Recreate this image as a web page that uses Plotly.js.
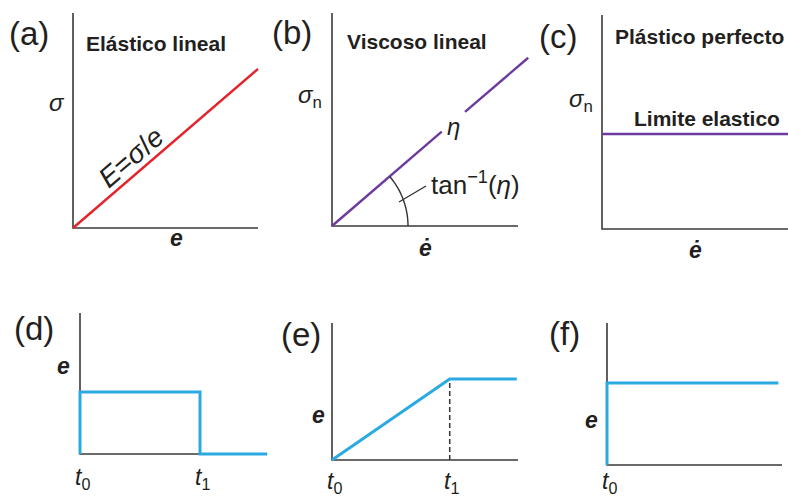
<!DOCTYPE html>
<html>
<head>
<meta charset="utf-8">
<script src="https://cdn.plot.ly/plotly-3.0.1.min.js"></script>
<style>
  html, body { margin: 0; padding: 0; background: #ffffff; }
  #chart { width: 788px; height: 498px; }
</style>
</head>
<body>
<div id="chart"></div>
<script>
// ---- data (arbitrary units; each axis is drawn from 0 to its max) ----
// (a) linear elastic: stress vs strain
const elasticStrain = [0, 10];
const elasticStress = [0, 7.4];
// (b) linear viscous: stress vs strain rate (broken where the η label sits)
const viscousRate   = [0, 5.9, null, 7.15, 10.55];
const viscousStress = [0, 4.43, null, 5.36, 7.9];
// (c) perfectly plastic: yield stress independent of strain rate
const plasticRate   = [0, 10];
const plasticStress = [4.44, 4.44];
// (d) strain history for the elastic body
const dTime   = [0, 0, 1, 1, 1.56];
const dStrain = [0, 1, 1, 0, 0];
// (e) strain history for the viscous body
const eTime   = [0, 1, 1.57];
const eStrain = [0, 1, 1];
// (f) strain history for the plastic body
const fTime   = [0, 0, 1.43];
const fStrain = [0, 1, 1];

// axis lengths per panel (a..f)
const axisXMax = [10, 10, 10, 1, 1.58, 1.46];
const axisYMax = [10, 10, 10, 2.27, 1.69, 1.73];

// tick labels on the time axes
const dTickVals = [0, 1];
const dTickText = ['<i>t</i><sub>0</sub>', '<i>t</i><sub>1</sub>'];
const eTickVals = [0, 1];
const eTickText = ['<i>t</i><sub>0</sub>', '<i>t</i><sub>1</sub>'];
const fTickVals = [0];
const fTickText = ['<i>t</i><sub>0</sub>'];

// ---- layout geometry ----
const W = 788, H = 498;
const FONT = 'Liberation Sans, Arial, Helvetica, sans-serif';
const INK = '#231f20', AXIS = '#3a3a3a';
const RED = '#e5232b', PURPLE = '#6d3a9e', BLUE = '#2aaae1';

// pixel frame of each panel: origin, axis ends and the plotting window
const frames = [
  {ox: 73,  oy: 228, xEnd: 258, yTop: 13,  l: 62,  r: 270, t: 4,   b: 238},
  {ox: 332, oy: 226, xEnd: 518, yTop: 13,  l: 322, r: 540, t: 4,   b: 236},
  {ox: 602, oy: 229, xEnd: 788, yTop: 15,  l: 592, r: 788, t: 4,   b: 239},
  {ox: 80,  oy: 454, xEnd: 200, yTop: 313, l: 70,  r: 278, t: 303, b: 464},
  {ox: 332, oy: 460, xEnd: 518, yTop: 323, l: 322, r: 530, t: 313, b: 470},
  {ox: 607, oy: 465, xEnd: 782, yTop: 323, l: 597, r: 788, t: 313, b: 475}
];

const layout = {
  width: W, height: H,
  margin: {l: 0, r: 0, t: 0, b: 0},
  paper_bgcolor: '#ffffff', plot_bgcolor: 'rgba(0,0,0,0)',
  showlegend: false,
  shapes: [], annotations: []
};

frames.forEach((f, i) => {
  f.sx = (f.xEnd - f.ox) / axisXMax[i];
  f.sy = (f.oy - f.yTop) / axisYMax[i];
  const n = i === 0 ? '' : String(i + 1);
  const common = {visible: false, fixedrange: true, showgrid: false, zeroline: false};
  layout['xaxis' + n] = Object.assign({}, common, {
    domain: [f.l / W, f.r / W],
    range: [(f.l - f.ox) / f.sx, (f.r - f.ox) / f.sx],
    anchor: 'y' + n
  });
  layout['yaxis' + n] = Object.assign({}, common, {
    domain: [1 - f.b / H, 1 - f.t / H],
    range: [(f.oy - f.b) / f.sy, (f.oy - f.t) / f.sy],
    anchor: 'x' + n
  });
  // L-shaped axes from the origin
  layout.shapes.push({
    type: 'path', xref: 'x' + n, yref: 'y' + n, layer: 'below',
    path: `M0,${axisYMax[i]} L0,0 L${axisXMax[i]},0`,
    line: {color: AXIS, width: 1.6}
  });
});

// dashed guide at t1 in (e)
layout.shapes.push({
  type: 'line', xref: 'x5', yref: 'y5', layer: 'below',
  x0: eTickVals[1], x1: eTickVals[1], y0: 0, y1: eStrain[1],
  line: {color: '#333333', width: 1.5, dash: '5px,3px'}
});

// angle arc for tan^-1(η) in (b), drawn in pixels around the origin
(function () {
  const f = frames[1];
  const ang = Math.atan2(viscousStress[4] * f.sy, viscousRate[4] * f.sx);
  const rad = 76;
  let p = '';
  for (let k = 0; k <= 24; k++) {
    const a = ang * k / 24;
    p += (k ? ' L' : 'M') + (rad * Math.cos(a)).toFixed(2) + ',' + (rad * Math.sin(a)).toFixed(2);
  }
  layout.shapes.push({
    type: 'path', xref: 'x2', yref: 'y2', xsizemode: 'pixel', ysizemode: 'pixel',
    xanchor: 0, yanchor: 0, path: p, line: {color: '#333333', width: 1.4}
  });
  layout.shapes.push({
    type: 'path', xref: 'x2', yref: 'y2', xsizemode: 'pixel', ysizemode: 'pixel',
    xanchor: 0, yanchor: 0, path: 'M67,24 L94,40', line: {color: '#333333', width: 1.4}
  });
})();

// ---- text ----
function ann(text, x, y, o) {
  layout.annotations.push(Object.assign({
    text: text, xref: 'paper', yref: 'paper', x: x / W, y: 1 - y / H,
    xanchor: 'center', yanchor: 'middle', showarrow: false,
    font: {family: FONT, size: 24, color: INK}
  }, o || {}));
}
const big = {font: {family: FONT, size: 33, color: INK}};
const bold = {xanchor: 'left', font: {family: FONT, size: 21, color: INK, weight: 'bold'}};
const sym = {font: {family: FONT, size: 23, color: INK, weight: 'bold'}};

ann('(a)', 29, 33, big);
ann('(b)', 292, 32, big);
ann('(c)', 558, 36, big);
ann('(d)', 34, 328, big);
ann('(e)', 301, 334, big);
ann('(f)', 564, 333, big);

ann('<b>Elástico lineal</b>', 84, 44, bold);
ann('<b>Viscoso lineal</b>', 345, 42, bold);
ann('<b>Plástico perfecto</b>', 613, 36, bold);
ann('<b>Limite elastico</b>', 632, 118, bold);

ann('<i>σ</i>', 57, 102);
ann('<i>e</i>', 176, 238, sym);
ann('<i>E</i>=<i>σ</i>/<i>e</i>', 131, 158, {textangle: -40.6, font: {family: FONT, size: 28, color: INK}});

ann('<i>σ</i><sub>n</sub>', 310, 97);
ann('<i>ė</i>', 425, 248, sym);
ann('<i>η</i>', 453, 126);
ann('tan<sup>−1</sup>(<i>η</i>)', 429, 184, {xanchor: 'left', font: {family: FONT, size: 26, color: INK}});

ann('<i>σ</i><sub>n</sub>', 581, 101);
ann('<i>ė</i>', 695, 250, sym);

ann('<i>e</i>', 63, 366, sym);
ann('<i>e</i>', 318, 415, sym);
ann('<i>e</i>', 591, 420, sym);

// time tick labels placed through each panel's x scale
function ticks(vals, txt, n, y) {
  vals.forEach((v, k) => layout.annotations.push({
    text: txt[k], xref: 'x' + n, yref: 'paper', x: v, y: 1 - y / H, xshift: 2,
    xanchor: 'center', yanchor: 'middle', showarrow: false,
    font: {family: FONT, size: 23, color: INK}
  }));
}
ticks(dTickVals, dTickText, '4', 478);
ticks(eTickVals, eTickText, '5', 482);
ticks(fTickVals, fTickText, '6', 482);

// ---- traces ----
function line(x, y, n, color, w) {
  return {
    x: x, y: y, xaxis: 'x' + n, yaxis: 'y' + n, type: 'scatter', mode: 'lines',
    line: {color: color, width: w}, hoverinfo: 'skip', connectgaps: false
  };
}
const data = [
  line(elasticStrain, elasticStress, '', RED, 2.4),
  line(viscousRate, viscousStress, '2', PURPLE, 2.4),
  line(plasticRate, plasticStress, '3', PURPLE, 2.4),
  line(dTime, dStrain, '4', BLUE, 3),
  line(eTime, eStrain, '5', BLUE, 3),
  line(fTime, fStrain, '6', BLUE, 3)
];

Plotly.newPlot('chart', data, layout, {staticPlot: true, displayModeBar: false});
</script>
</body>
</html>
